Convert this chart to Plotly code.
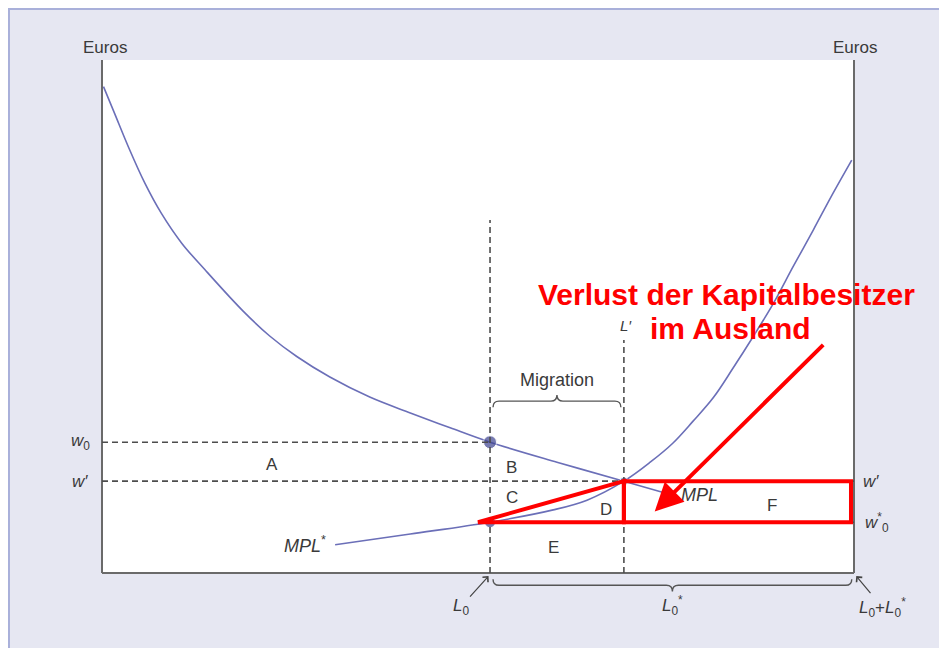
import plotly.graph_objects as go

# ---------------- data (axis units: x 0..100, y 0..100) ----------------
mpl_x = [0.2, 1.7, 3.5, 5.7, 7.9, 10.6, 13.7, 18.8, 22.3, 25.9, 30.3, 35.6, 41.0, 46.3, 51.6, 60.5, 69.4, 75.8]
mpl_y = [94.8, 89.5, 83.1, 76.0, 70.1, 64.3, 59.1, 51.0, 46.2, 42.2, 38.2, 34.3, 31.2, 28.3, 25.5, 21.6, 17.9, 15.2]

mplf_x = [31.0, 41.0, 51.6, 60.0, 64.5, 69.4, 72.9, 75.9, 78.6, 81.3, 83.9, 86.6, 89.3, 91.9, 94.6, 97.2, 99.7]
mplf_y = [5.5, 7.6, 9.9, 12.3, 14.2, 17.9, 21.6, 25.3, 29.6, 34.2, 39.9, 46.1, 52.6, 59.7, 66.9, 74.0, 80.5]

L0 = 51.6
L_prime = 69.4
L_total = 100
w0 = 25.5
w_prime = 17.9
w0_star = 9.9
L0_top = 68.8
Lp_top = 45.4
red_left = 50.0
red_right = 99.6

area_labels = ["A", "B", "C", "D", "E", "F"]
area_x = [22.6, 54.4, 54.5, 67.0, 60.0, 89.1]
area_y = [21.1, 20.5, 14.8, 12.3, 4.9, 13.1]

CURVE = "#6b6fb8"
DOT = "#3d4290"
DASH = "#4d4d4d"
TXT = "#3a3a3a"
RED = "#ff0000"
FONT = "Liberation Sans, Arial, sans-serif"

fig = go.Figure()

fig.add_trace(go.Scatter(x=mpl_x, y=mpl_y, mode="lines",
                         line=dict(color=CURVE, width=1.6, shape="spline", smoothing=1.0),
                         hoverinfo="skip", showlegend=False))
fig.add_trace(go.Scatter(x=mplf_x, y=mplf_y, mode="lines",
                         line=dict(color=CURVE, width=1.6, shape="spline", smoothing=1.0),
                         hoverinfo="skip", showlegend=False))

shapes = []
# frame & background
shapes.append(dict(type="rect", xref="paper", yref="paper",
                   x0=-0.1237, x1=1.2, y0=-0.2, y1=1.0994,
                   fillcolor="#e6e7f2", line=dict(color="#a9b0da", width=2), layer="below"))
shapes.append(dict(type="rect", xref="paper", yref="paper", x0=0, x1=1, y0=0, y1=1,
                   fillcolor="white", line=dict(width=0), layer="below"))
# axis lines
ax_line = dict(color="#6a6a6a", width=2)
shapes.append(dict(type="line", xref="paper", yref="paper", x0=0, x1=0, y0=0, y1=1, line=ax_line))
shapes.append(dict(type="line", xref="paper", yref="paper", x0=1, x1=1, y0=0, y1=1, line=ax_line))
shapes.append(dict(type="line", xref="paper", yref="paper", x0=0, x1=1, y0=0, y1=0, line=ax_line))

dl = dict(color=DASH, width=1.6, dash="6px,4px")
shapes.append(dict(type="line", x0=0, x1=L0, y0=w0, y1=w0, line=dl))
shapes.append(dict(type="line", x0=0, x1=L_total, y0=w_prime, y1=w_prime, line=dl))
shapes.append(dict(type="line", x0=L0, x1=L_total, y0=w0_star, y1=w0_star, line=dl))
shapes.append(dict(type="line", x0=L0, x1=L0, y0=0, y1=L0_top, line=dl))
shapes.append(dict(type="line", x0=L_prime, x1=L_prime, y0=0, y1=Lp_top, line=dl))

# braces (paper coords = axis units / 100)
def brace(xa, xb, y, h, up=True):
    s = 1 if up else -1
    xa, xb, y, h = xa / 100, xb / 100, y / 100, h / 100
    xm = (xa + xb) / 2
    d = 0.008
    return (f"M{xa},{y - s*h} Q{xa},{y} {xa+d},{y} L{xm-d},{y} "
            f"Q{xm},{y} {xm},{y + s*h} Q{xm},{y} {xm+d},{y} "
            f"L{xb-d},{y} Q{xb},{y} {xb},{y - s*h}")

shapes.append(dict(type="path", xref="paper", yref="paper",
                   path=brace(L0 + 0.4, L_prime - 0.4, 33.5, 1.2, up=True),
                   line=dict(color="#555", width=1.4)))
shapes.append(dict(type="path", xref="paper", yref="paper",
                   path=brace(L0 + 0.4, L_total - 0.3, -2.4, 1.2, up=False),
                   line=dict(color="#555", width=1.4)))

# red highlight
rl = dict(color=RED, width=4)
shapes.append(dict(type="path",
                   path=f"M{red_left},{w0_star} L{L_prime},{w_prime} L{L_prime},{w0_star} Z",
                   line=rl))
shapes.append(dict(type="rect", x0=L_prime, x1=red_right, y0=w0_star, y1=w_prime, line=rl))

fig.add_trace(go.Scatter(x=[L0, L0, L_prime], y=[w0, w0_star, w_prime], mode="markers",
                         marker=dict(color=DOT, size=[13, 11, 8]),
                         hoverinfo="skip", showlegend=False))

ann = []
def txt(x, y, t, size=15, color=TXT, **kw):
    ann.append(dict(x=x / 100, y=y / 100, xref="paper", yref="paper", text=t, showarrow=False,
                    xanchor="center", yanchor="middle",
                    font=dict(family=FONT, size=size, color=color), **kw))

txt(0.4, 102.5, "Euros", 17)
txt(100.1, 102.5, "Euros", 17)
txt(-2.9, w0, "<i>w</i><sub>0</sub>", 17)
txt(-2.9, w_prime, "<i>w′</i>", 17)
txt(102.2, w_prime, "<i>w′</i>", 17)
txt(103.0, w0_star, "<i>w</i><sup>*</sup><sub>0</sub>", 17)
txt(L_prime + 0.3, 48.3, "<i>L′</i>", 15)
txt(60.5, 37.6, "Migration", 18)
for lab, ax_, ay_ in zip(area_labels, area_x, area_y):
    txt(ax_, ay_, lab, 17)
txt(79.5, 15.2, "<i>MPL</i>", 18)
txt(27.0, 5.5, "<i>MPL</i><sup>*</sup>", 18)
txt(75.8, -6.4, "<i>L</i><sub>0</sub><sup>*</sup>", 17)

# arrow labels
ann.append(dict(x=(L0 - 0.2) / 100, y=-0.006, xref="paper", yref="paper", text="<i>L</i><sub>0</sub>",
                showarrow=True, arrowhead=4, arrowsize=1.2, arrowwidth=1.2, arrowcolor="#444",
                ax=-28, ay=31, font=dict(family=FONT, size=17, color=TXT)))
ann.append(dict(x=(L_total + 0.3) / 100, y=-0.006, xref="paper", yref="paper",
                text="<i>L</i><sub>0</sub>+<i>L</i><sub>0</sub><sup>*</sup>",
                showarrow=True, arrowhead=4, arrowsize=1.2, arrowwidth=1.2, arrowcolor="#444",
                ax=26, ay=31, font=dict(family=FONT, size=17, color=TXT)))

# red annotation
ann.append(dict(x=73.5, y=12.0, xref="x", yref="y", text="", showarrow=True,
                arrowhead=2, arrowsize=1.4, arrowwidth=4, arrowcolor=RED,
                ax=170, ay=-168))
txt(83.0, 54.2, "<b>Verlust der Kapitalbesitzer</b>", 30, RED)
txt(83.6, 47.6, "<b>im Ausland</b>", 30, RED)

# page body has an 8px margin: shrink figure so plot area lands at 102..854 x 60..573
fig.update_layout(
    width=939, height=640,
    margin=dict(l=94, r=93, t=52, b=75),
    paper_bgcolor="#eef0f7", plot_bgcolor="rgba(0,0,0,0)",
    xaxis=dict(range=[0, 100], visible=False),
    yaxis=dict(range=[0, 100], visible=False),
    shapes=shapes, annotations=ann, showlegend=False,
)

fig.write_html("out.html")
